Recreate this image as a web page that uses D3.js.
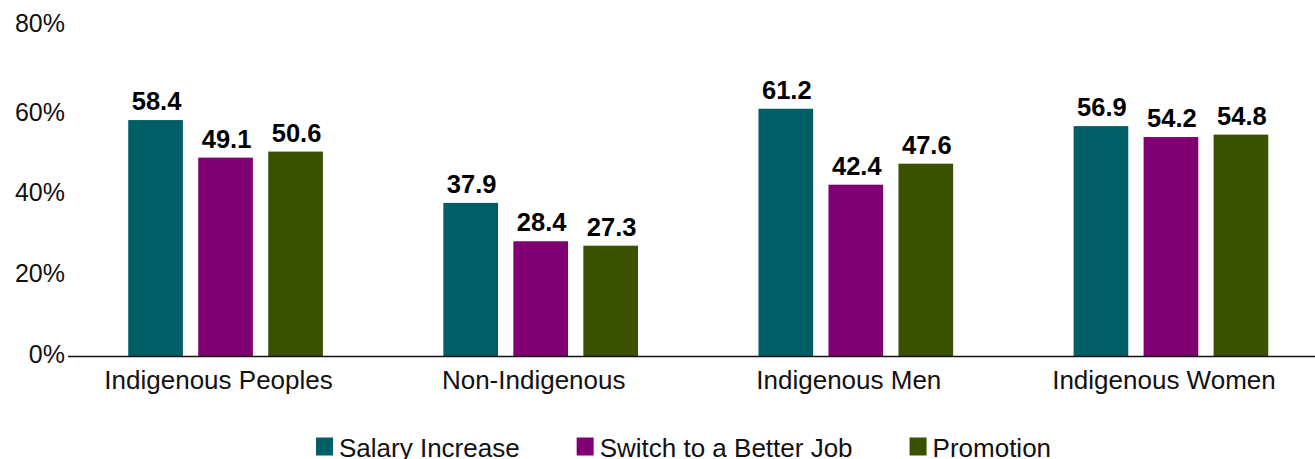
<!DOCTYPE html>
<html>
<head>
<meta charset="utf-8">
<script src="https://cdn.jsdelivr.net/npm/d3@7"></script>
<style>
  html, body { margin: 0; padding: 0; background: #fff; overflow: hidden; }
  svg { display: block; font-family: "Liberation Sans", Arial, Helvetica, sans-serif; }
</style>
</head>
<body>
<svg id="chart" width="1315" height="459"></svg>
<script>
const categories = ["Indigenous Peoples", "Non-Indigenous", "Indigenous Men", "Indigenous Women"];
const seriesNames = ["Salary Increase", "Switch to a Better Job", "Promotion"];
const salaryIncrease = [58.4, 37.9, 61.2, 56.9];
const switchBetterJob = [49.1, 28.4, 42.4, 54.2];
const promotion = [50.6, 27.3, 47.6, 54.8];
const yTicks = [0, 20, 40, 60, 80];
const colors = ["#005f66", "#800073", "#3a5100"];

const seriesValues = [salaryIncrease, switchBetterJob, promotion];

const svg = d3.select("#chart");
const W = 1315, H = 459;

const x0 = d3.scaleBand().domain(categories).range([68, 1328.5]).paddingInner(0).paddingOuter(0);
const x1 = d3.scaleBand().domain(seriesNames)
  .range([(x0.bandwidth() - 210) / 2, (x0.bandwidth() + 210) / 2])
  .paddingInner(0.219).paddingOuter(0.1095);
const y = d3.scaleLinear().domain([0, 80]).range([356, 32.8]);
const color = d3.scaleOrdinal().domain(seriesNames).range(colors);

// Y axis labels
const yAxis = d3.axisLeft(y).tickValues(yTicks).tickFormat(d => d + "%").tickSize(0).tickPadding(0);
const gy = svg.append("g").attr("transform", "translate(65,0)").call(yAxis);
gy.select(".domain").remove();
gy.selectAll("text")
  .attr("font-size", 25)
  .attr("font-family", "'Liberation Sans', Arial, sans-serif")
  .attr("fill", "#111")
  .attr("dy", d => d === 80 ? "-0.05em" : "0.26em");

// bars
const groups = svg.append("g").selectAll("g")
  .data(categories.map((c, i) => ({ c, vals: seriesNames.map((s, j) => ({ s, v: seriesValues[j][i] })) })))
  .join("g")
  .attr("transform", d => `translate(${x0(d.c)},0)`);

groups.selectAll("rect")
  .data(d => d.vals)
  .join("rect")
  .attr("x", d => x1(d.s))
  .attr("width", x1.bandwidth())
  .attr("y", d => y(d.v))
  .attr("height", d => y(0) - y(d.v))
  .attr("fill", d => color(d.s));

groups.selectAll("text.val")
  .data(d => d.vals)
  .join("text")
  .attr("class", "val")
  .attr("x", d => x1(d.s) + x1.bandwidth() / 2 + 1)
  .attr("y", d => y(d.v) - 10)
  .attr("text-anchor", "middle")
  .attr("font-size", 25.5)
  .attr("font-weight", "bold")
  .attr("fill", "#000")
  .text(d => d.v.toFixed(1));

// x axis line
svg.append("line")
  .attr("x1", 68).attr("x2", W)
  .attr("y1", y(0) + 0.5).attr("y2", y(0) + 0.5)
  .attr("stroke", "#111").attr("stroke-width", 1.5);

// category labels
const xAxis = d3.axisBottom(x0).tickSize(0).tickPadding(0);
const gx = svg.append("g").attr("transform", `translate(-7,${y(0)})`).call(xAxis);
gx.select(".domain").remove();
gx.selectAll("text")
  .attr("font-size", 26)
  .attr("font-family", "'Liberation Sans', Arial, sans-serif")
  .attr("fill", "#111")
  .attr("dy", null)
  .attr("y", 33);

// legend
const legend = svg.append("g");
let lx = 316;
seriesNames.forEach((s, i) => {
  const g = legend.append("g").attr("transform", `translate(${lx},0)`);
  g.append("rect").attr("x", 0).attr("y", 437.5).attr("width", 17).attr("height", 18).attr("fill", color(s));
  const t = g.append("text").attr("x", 23).attr("y", 457)
    .attr("font-size", 26).attr("fill", "#111").text(s);
  lx += 23 + t.node().getComputedTextLength() + 57;
});
</script>
</body>
</html>
